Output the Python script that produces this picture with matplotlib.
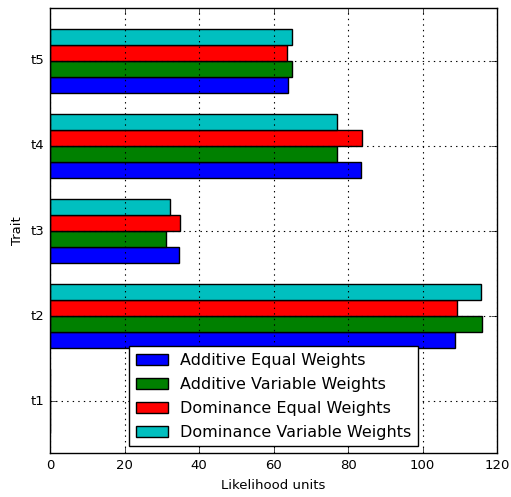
import numpy as np
import matplotlib
matplotlib.use("Agg")
from matplotlib import pyplot as plt

plt.style.use("classic")

traits = ["t1", "t2", "t3", "t4", "t5"]
series = ["Additive Equal Weights", "Additive Variable Weights",
          "Dominance Equal Weights", "Dominance Variable Weights"]
add_equal = [0, 108.8, 34.6, 83.4, 63.8]
add_var = [0, 115.9, 31.0, 76.9, 65.0]
dom_equal = [0, 109.2, 34.8, 83.8, 63.7]
dom_var = [0, 115.6, 32.1, 77.0, 65.0]
colors = ["b", "g", "r", "c"]

fig = plt.figure(figsize=(5.11, 4.97), dpi=100, facecolor="white")
ax = fig.add_axes([0.098, 0.088, 0.875, 0.896])

y = np.arange(len(traits))
h = 0.1875
for k, vals in enumerate([add_equal, add_var, dom_equal, dom_var]):
    ax.barh(y - 1.5 * h + k * h, vals, height=h, color=colors[k],
            edgecolor="black", linewidth=1.0, label=series[k])

ax.set_yticks(y)
ax.set_yticklabels(traits)
ax.set_ylim(-0.61, 4.62)
ax.set_xlim(0, 120)
ax.set_xticks(np.arange(0, 121, 20))
ax.grid(True, color="black", linestyle=":", linewidth=0.8)
ax.set_axisbelow(False)
ax.tick_params(labelsize=9.5)
ax.set_xlabel("Likelihood units", fontsize=9.5)
ax.set_ylabel("Trait", fontsize=9.5)
leg = ax.legend(loc="lower center", fontsize=11.5, bbox_to_anchor=(0.5, 0.0),
                borderaxespad=0.45, labelspacing=0.56)
leg.get_frame().set_linewidth(1.0)

fig.savefig("out.png", dpi=100, facecolor="white")
